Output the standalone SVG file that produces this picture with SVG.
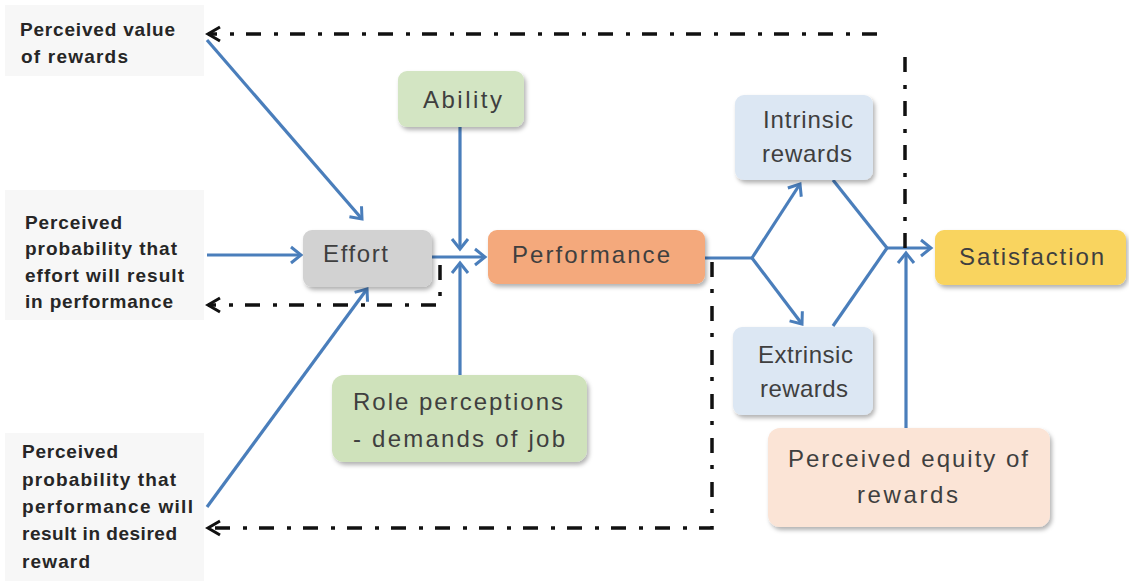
<svg xmlns="http://www.w3.org/2000/svg" width="1129" height="581" viewBox="0 0 1129 581">
  <style>
    .lbl { font-family: "Liberation Sans", Arial, sans-serif; font-weight: bold; font-size: 19px; fill: #262626; }
    .lblbg { fill: #f7f7f7; }
    .node { font-family: "Liberation Sans", Arial, sans-serif; font-size: 24px; fill: #3f3f3f; }
    .box { filter: url(#shadow); }
    .flow { fill: none; stroke: #4a7ebb; stroke-width: 3.2; marker-end: url(#blueArrow); }
    .flow-plain { fill: none; stroke: #4a7ebb; stroke-width: 3.2; }
    .feedback { fill: none; stroke: #111; stroke-width: 3.5; stroke-dasharray: 15 12 4 13; }
    .feedback-end { marker-end: url(#blackArrow); }
  </style>
  <defs>
    <filter id="shadow" x="-10%" y="-10%" width="125%" height="140%">
      <feDropShadow dx="2" dy="3" stdDeviation="2" flood-color="#000" flood-opacity="0.3"/>
    </filter>
    <marker id="blueArrow" markerUnits="userSpaceOnUse" orient="auto" refX="0" refY="0" markerWidth="20" markerHeight="20" overflow="visible">
      <path d="M-10,-8 L0,0 L-10,8" fill="none" stroke="#4a7ebb" stroke-width="3" stroke-dasharray="none"/>
    </marker>
    <marker id="blackArrow" markerUnits="userSpaceOnUse" orient="auto" refX="0" refY="0" markerWidth="20" markerHeight="20" overflow="visible">
      <path d="M-12,-7 L0,0 L-12,7" fill="none" stroke="#111" stroke-width="3" stroke-dasharray="none"/>
    </marker>
  </defs>

  <rect width="1129" height="581" fill="#ffffff"/>

  <!-- Left-hand expectancy labels -->
  <g id="value-of-rewards">
    <rect class="lblbg" x="5" y="5" width="199" height="71"/>
    <text class="lbl" x="20" y="36" textLength="155" lengthAdjust="spacing">Perceived value</text>
    <text class="lbl" x="21" y="63" textLength="107" lengthAdjust="spacing">of rewards</text>
  </g>
  <g id="effort-performance-probability">
    <rect class="lblbg" x="5" y="190" width="199" height="130"/>
    <text class="lbl" x="25" y="229" textLength="97" lengthAdjust="spacing">Perceived</text>
    <text class="lbl" x="25" y="255" textLength="152" lengthAdjust="spacing">probability that</text>
    <text class="lbl" x="25" y="282" textLength="159" lengthAdjust="spacing">effort will result</text>
    <text class="lbl" x="25" y="308" textLength="148" lengthAdjust="spacing">in performance</text>
  </g>
  <g id="performance-reward-probability">
    <rect class="lblbg" x="5" y="433" width="199" height="148"/>
    <text class="lbl" x="22" y="458" textLength="96" lengthAdjust="spacing">Perceived</text>
    <text class="lbl" x="22" y="486" textLength="154" lengthAdjust="spacing">probability that</text>
    <text class="lbl" x="22" y="513" textLength="171" lengthAdjust="spacing">performance will</text>
    <text class="lbl" x="22" y="540" textLength="155" lengthAdjust="spacing">result in desired</text>
    <text class="lbl" x="22" y="568" textLength="68" lengthAdjust="spacing">reward</text>
  </g>

  <!-- Connectors -->
  <g id="connectors">
    <path class="flow" d="M207,40 L362,219"/>
    <path class="flow" d="M207,255 L301,255"/>
    <path class="flow" d="M207,507 L367,289"/>
    <path class="flow" d="M460,127 V249"/>
    <path class="flow" d="M460,375 V263"/>
    <path class="flow" d="M432,257 H485"/>
    <path class="flow-plain" d="M705,258 H752"/>
    <path class="flow" d="M752,258 L800,184"/>
    <path class="flow" d="M752,258 L802,324"/>
    <path class="flow-plain" d="M833,180 L887,248"/>
    <path class="flow-plain" d="M833,326 L887,248"/>
    <path class="flow" d="M887,248 H931"/>
    <path class="flow" d="M906,428 V253"/>

    <!-- feedback loops (dash-dot) -->
    <path class="feedback" d="M905,248 V50"/>
    <path class="feedback feedback-end" d="M877,34 H208"/>
    <path class="feedback feedback-end" d="M440,265 V305 H208"/>
    <path class="feedback feedback-end" d="M712,262 V528 H208"/>
  </g>

  <!-- Nodes -->
  <g id="ability">
    <rect class="box" x="398" y="71" width="126" height="56" rx="9" fill="#d3e5c3"/>
    <text class="node" x="423" y="108" textLength="79" lengthAdjust="spacing" fill="#3a4731">Ability</text>
  </g>
  <g id="effort">
    <rect class="box" x="303" y="230" width="129" height="57" rx="9" fill="#d2d2d2"/>
    <text class="node" x="323" y="262" textLength="65" lengthAdjust="spacing" fill="#595959">Effort</text>
  </g>
  <g id="performance">
    <rect class="box" x="488" y="230" width="217" height="54" rx="9" fill="#f4a97b"/>
    <text class="node" x="512" y="263" textLength="158" lengthAdjust="spacing" fill="#5a3a28">Performance</text>
  </g>
  <g id="intrinsic-rewards">
    <rect class="box" x="735" y="95" width="138" height="85" rx="9" fill="#dce7f3"/>
    <text class="node" x="763" y="128" textLength="90" lengthAdjust="spacing" fill="#2f2f2f">Intrinsic</text>
    <text class="node" x="762" y="162" textLength="90" lengthAdjust="spacing" fill="#2f2f2f">rewards</text>
  </g>
  <g id="extrinsic-rewards">
    <rect class="box" x="733" y="327" width="140" height="88" rx="9" fill="#dce7f3"/>
    <text class="node" x="758" y="363" textLength="95" lengthAdjust="spacing" fill="#2f2f2f">Extrinsic</text>
    <text class="node" x="760" y="397" textLength="88" lengthAdjust="spacing" fill="#2f2f2f">rewards</text>
  </g>
  <g id="satisfaction">
    <rect class="box" x="935" y="230" width="191" height="55" rx="9" fill="#f9d45e"/>
    <text class="node" x="959" y="265" textLength="145" lengthAdjust="spacing" fill="#40350f">Satisfaction</text>
  </g>
  <g id="perceived-equity">
    <rect class="box" x="768" y="428" width="282" height="99" rx="12" fill="#fbe4d6"/>
    <text class="node" x="788" y="467" textLength="240" lengthAdjust="spacing" fill="#574c48">Perceived equity of</text>
    <text class="node" x="857" y="503" textLength="101" lengthAdjust="spacing" fill="#574c48">rewards</text>
  </g>
  <g id="role-perceptions">
    <rect class="box" x="332" y="375" width="255" height="87" rx="12" fill="#cfe2bb"/>
    <text class="node" x="353" y="410" textLength="210" lengthAdjust="spacing" fill="#3d4a33">Role perceptions</text>
    <text class="node" x="353" y="447" textLength="212" lengthAdjust="spacing" fill="#3d4a33">- demands of job</text>
  </g>
</svg>
